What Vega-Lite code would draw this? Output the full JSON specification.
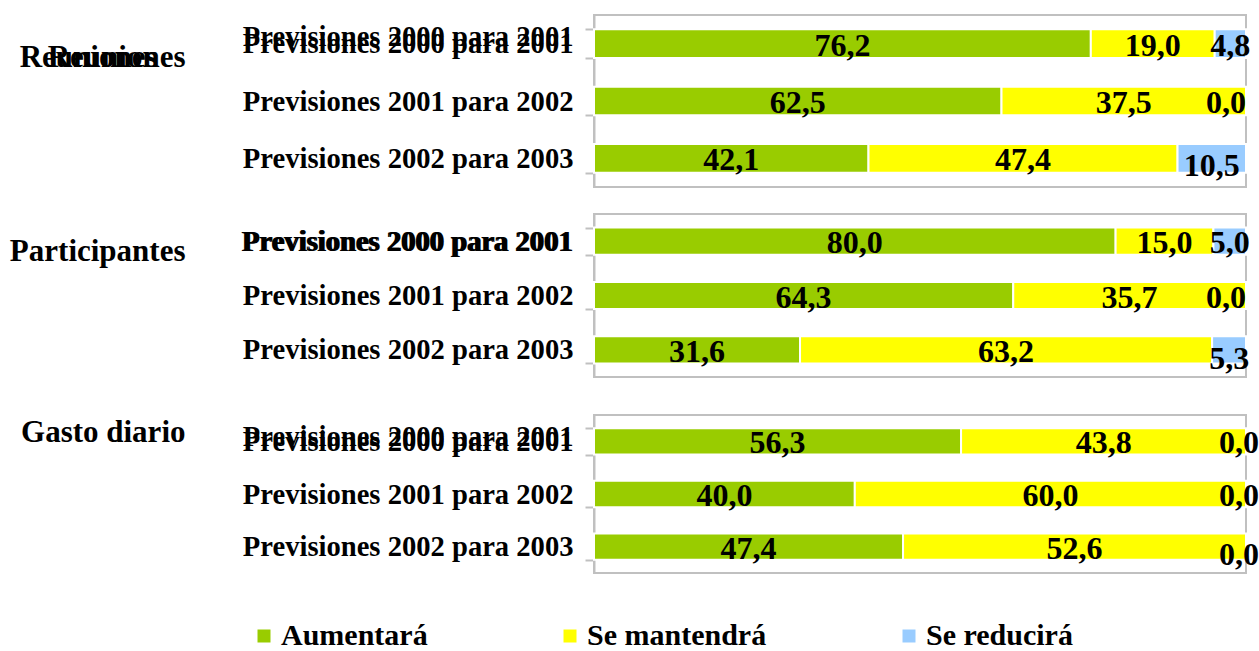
{
  "$schema": "https://vega.github.io/schema/vega-lite/v6.json",
  "padding": {"left": 8, "top": 0, "right": 5, "bottom": 0},
  "background": "white",
  "config": {
    "locale": {"number": {"decimal": ",", "thousands": ".", "grouping": [3], "currency": ["", " €"]}},
    "view": {"stroke": "#C0C0C0", "strokeWidth": 2},
    "font": "Liberation Serif",
    "axisX": {
      "grid": true,
      "gridColor": "#C0C0C0",
      "gridWidth": 2,
      "domainColor": "#C0C0C0",
      "domainWidth": 2,
      "tickColor": "#C0C0C0",
      "tickWidth": 2,
      "tickSize": 10
    },
    "axisY": {
      "labelFont": "Liberation Serif",
      "labelFontSize": 28.6,
      "labelFontWeight": "bold",
      "labelColor": "black",
      "labelPadding": 12,
      "labelLimit": 500,
      "domainColor": "#C0C0C0",
      "domainWidth": 2,
      "tickColor": "#C0C0C0",
      "tickWidth": 2,
      "tickSize": 9,
      "tickBand": "extent",
      "titleFont": "Liberation Serif",
      "titleFontSize": 31,
      "titleFontWeight": "bold",
      "titleColor": "black",
      "titleAngle": 0,
      "titleAlign": "right",
      "titleBaseline": "middle",
      "titleX": -409
    },
    "text": {"font": "Liberation Serif", "fontSize": 32, "fontWeight": "bold", "color": "black", "baseline": "middle"}
  },
  "data": {
    "values": [
      {"grupo": "Reuniones", "prevision": "Previsiones 2000 para 2001", "categoria": "Aumentará", "orden": 1, "valor": 76.2},
      {"grupo": "Reuniones", "prevision": "Previsiones 2000 para 2001", "categoria": "Se mantendrá", "orden": 2, "valor": 19.0},
      {"grupo": "Reuniones", "prevision": "Previsiones 2000 para 2001", "categoria": "Se reducirá", "orden": 3, "valor": 4.8},
      {"grupo": "Reuniones", "prevision": "Previsiones 2001 para 2002", "categoria": "Aumentará", "orden": 1, "valor": 62.5},
      {"grupo": "Reuniones", "prevision": "Previsiones 2001 para 2002", "categoria": "Se mantendrá", "orden": 2, "valor": 37.5},
      {"grupo": "Reuniones", "prevision": "Previsiones 2001 para 2002", "categoria": "Se reducirá", "orden": 3, "valor": 0.0},
      {"grupo": "Reuniones", "prevision": "Previsiones 2002 para 2003", "categoria": "Aumentará", "orden": 1, "valor": 42.1},
      {"grupo": "Reuniones", "prevision": "Previsiones 2002 para 2003", "categoria": "Se mantendrá", "orden": 2, "valor": 47.4},
      {"grupo": "Reuniones", "prevision": "Previsiones 2002 para 2003", "categoria": "Se reducirá", "orden": 3, "valor": 10.5},
      {"grupo": "Participantes", "prevision": "Previsiones 2000 para 2001", "categoria": "Aumentará", "orden": 1, "valor": 80.0},
      {"grupo": "Participantes", "prevision": "Previsiones 2000 para 2001", "categoria": "Se mantendrá", "orden": 2, "valor": 15.0},
      {"grupo": "Participantes", "prevision": "Previsiones 2000 para 2001", "categoria": "Se reducirá", "orden": 3, "valor": 5.0},
      {"grupo": "Participantes", "prevision": "Previsiones 2001 para 2002", "categoria": "Aumentará", "orden": 1, "valor": 64.3},
      {"grupo": "Participantes", "prevision": "Previsiones 2001 para 2002", "categoria": "Se mantendrá", "orden": 2, "valor": 35.7},
      {"grupo": "Participantes", "prevision": "Previsiones 2001 para 2002", "categoria": "Se reducirá", "orden": 3, "valor": 0.0},
      {"grupo": "Participantes", "prevision": "Previsiones 2002 para 2003", "categoria": "Aumentará", "orden": 1, "valor": 31.6},
      {"grupo": "Participantes", "prevision": "Previsiones 2002 para 2003", "categoria": "Se mantendrá", "orden": 2, "valor": 63.2},
      {"grupo": "Participantes", "prevision": "Previsiones 2002 para 2003", "categoria": "Se reducirá", "orden": 3, "valor": 5.3},
      {"grupo": "Gasto diario", "prevision": "Previsiones 2000 para 2001", "categoria": "Aumentará", "orden": 1, "valor": 56.3},
      {"grupo": "Gasto diario", "prevision": "Previsiones 2000 para 2001", "categoria": "Se mantendrá", "orden": 2, "valor": 43.8},
      {"grupo": "Gasto diario", "prevision": "Previsiones 2000 para 2001", "categoria": "Se reducirá", "orden": 3, "valor": 0.0},
      {"grupo": "Gasto diario", "prevision": "Previsiones 2001 para 2002", "categoria": "Aumentará", "orden": 1, "valor": 40.0},
      {"grupo": "Gasto diario", "prevision": "Previsiones 2001 para 2002", "categoria": "Se mantendrá", "orden": 2, "valor": 60.0},
      {"grupo": "Gasto diario", "prevision": "Previsiones 2001 para 2002", "categoria": "Se reducirá", "orden": 3, "valor": 0.0},
      {"grupo": "Gasto diario", "prevision": "Previsiones 2002 para 2003", "categoria": "Aumentará", "orden": 1, "valor": 47.4},
      {"grupo": "Gasto diario", "prevision": "Previsiones 2002 para 2003", "categoria": "Se mantendrá", "orden": 2, "valor": 52.6},
      {"grupo": "Gasto diario", "prevision": "Previsiones 2002 para 2003", "categoria": "Se reducirá", "orden": 3, "valor": 0.0}
    ]
  },
  "spacing": 22,
  "vconcat": [
    {
      "spacing": 11,
      "vconcat": [
        {
          "width": 652,
          "height": 172,
          "transform": [{"filter": "datum.grupo === 'Reuniones'"}],
          "resolve": {"axis": {"y": "independent"}},
          "layer": [
            {
              "encoding": {
                "y": {"field": "prevision", "type": "nominal", "sort": ["Previsiones 2000 para 2001", "Previsiones 2001 para 2002", "Previsiones 2002 para 2003"], "scale": {"paddingInner": 0.5, "paddingOuter": 0.25}, "axis": {"orient": "left", "title": "Reuniones", "titleY": 42}}
              },
              "layer": [
                {
                  "mark": {"type": "bar", "stroke": "white", "strokeWidth": 2},
                  "encoding": {
                    "x": {"field": "valor", "type": "quantitative", "stack": "zero", "scale": {"domain": [0, 100], "clamp": true}, "axis": {"values": [0, 20, 40, 60, 80, 100], "labels": false, "title": null}},
                    "color": {"field": "categoria", "type": "nominal", "scale": {"domain": ["Aumentará", "Se mantendrá", "Se reducirá"], "range": ["#99CC00", "#FFFF00", "#99CCFF"]},
                      "legend": {"orient": "none", "legendX": -345, "legendY": 606, "direction": "horizontal", "columns": 3, "title": null, "symbolType": "square", "symbolSize": 169, "symbolStrokeWidth": 0, "labelFont": "Liberation Serif", "labelFontSize": 30, "labelFontWeight": "bold", "labelColor": "black", "columnPadding": 127, "labelOffset": 2, "labelLimit": 400}},
                    "order": {"field": "orden", "type": "ordinal"}
                  }
                },
                {
                  "transform": [{"filter": "datum.valor > 0 && !(datum.prevision === 'Previsiones 2002 para 2003' && datum.categoria === 'Se reducirá')"}],
                  "mark": {"type": "text", "dy": 2},
                  "encoding": {
                    "x": {"field": "valor", "type": "quantitative", "stack": "zero", "bandPosition": 0.5, "axis": null},
                    "detail": {"field": "categoria", "type": "nominal"},
                    "order": {"field": "orden", "type": "ordinal"},
                    "text": {"field": "valor", "type": "quantitative", "format": ".1f"}
                  }
                },
                {
                  "transform": [{"filter": "datum.prevision === 'Previsiones 2002 para 2003'"}],
                  "mark": {"type": "text", "dy": 8},
                  "encoding": {
                    "x": {"field": "valor", "type": "quantitative", "stack": "zero", "bandPosition": 0.5, "axis": null},
                    "detail": {"field": "categoria", "type": "nominal"},
                    "order": {"field": "orden", "type": "ordinal"},
                    "text": {"condition": {"test": "datum.categoria !== 'Se reducirá' || datum.valor === 0", "value": ""}, "field": "valor", "type": "quantitative", "format": ".1f"}
                  }
                },
                {
                  "transform": [{"filter": "datum.valor === 0"}],
                  "mark": {"type": "text", "align": "right", "dy": 2},
                  "encoding": {
                    "x": {"datum": 100, "type": "quantitative", "axis": null},
                    "text": {"field": "valor", "type": "quantitative", "format": ".1f"}
                  }
                }
              ]
            },
            {
              "mark": {"type": "text"},
              "encoding": {
                "y": {"field": "prevision", "type": "nominal", "sort": ["Previsiones 2000 para 2001", "Previsiones 2001 para 2002", "Previsiones 2002 para 2003"], "scale": {"paddingInner": 0.5, "paddingOuter": 0.25}, "axis": {"orient": "left", "values": ["Previsiones 2000 para 2001"], "labelOffset": -7, "domain": false, "tickColor": "transparent", "title": "Reuniones", "titleX": -437, "titleY": 42}},
                "text": {"value": ""}
              }
            }
          ]
        },
        {
          "width": 652,
          "height": 163,
          "transform": [{"filter": "datum.grupo === 'Participantes'"}],
          "resolve": {"axis": {"y": "independent"}},
          "layer": [
            {
              "encoding": {
                "y": {"field": "prevision", "type": "nominal", "sort": ["Previsiones 2000 para 2001", "Previsiones 2001 para 2002", "Previsiones 2002 para 2003"], "scale": {"paddingInner": 0.5, "paddingOuter": 0.25}, "axis": {"orient": "left", "title": "Participantes", "titleY": 37}}
              },
              "layer": [
                {
                  "mark": {"type": "bar", "stroke": "white", "strokeWidth": 2},
                  "encoding": {
                    "x": {"field": "valor", "type": "quantitative", "stack": "zero", "scale": {"domain": [0, 100], "clamp": true}, "axis": {"values": [0, 20, 40, 60, 80, 100], "labels": false, "title": null}},
                    "color": {"field": "categoria", "type": "nominal"},
                    "order": {"field": "orden", "type": "ordinal"}
                  }
                },
                {
                  "transform": [{"filter": "datum.valor > 0 && !(datum.prevision === 'Previsiones 2002 para 2003' && datum.categoria === 'Se reducirá')"}],
                  "mark": {"type": "text", "dy": 2},
                  "encoding": {
                    "x": {"field": "valor", "type": "quantitative", "stack": "zero", "bandPosition": 0.5, "axis": null},
                    "detail": {"field": "categoria", "type": "nominal"},
                    "order": {"field": "orden", "type": "ordinal"},
                    "text": {"field": "valor", "type": "quantitative", "format": ".1f"}
                  }
                },
                {
                  "transform": [{"filter": "datum.prevision === 'Previsiones 2002 para 2003'"}],
                  "mark": {"type": "text", "dy": 9},
                  "encoding": {
                    "x": {"field": "valor", "type": "quantitative", "stack": "zero", "bandPosition": 0.5, "axis": null},
                    "detail": {"field": "categoria", "type": "nominal"},
                    "order": {"field": "orden", "type": "ordinal"},
                    "text": {"condition": {"test": "datum.categoria !== 'Se reducirá' || datum.valor === 0", "value": ""}, "field": "valor", "type": "quantitative", "format": ".1f"}
                  }
                },
                {
                  "transform": [{"filter": "datum.valor === 0"}],
                  "mark": {"type": "text", "align": "right", "dy": 2},
                  "encoding": {
                    "x": {"datum": 100, "type": "quantitative", "axis": null},
                    "text": {"field": "valor", "type": "quantitative", "format": ".1f"}
                  }
                }
              ]
            },
            {
              "mark": {"type": "text"},
              "encoding": {
                "y": {"field": "prevision", "type": "nominal", "sort": ["Previsiones 2000 para 2001", "Previsiones 2001 para 2002", "Previsiones 2002 para 2003"], "scale": {"paddingInner": 0.5, "paddingOuter": 0.25}, "axis": {"orient": "left", "values": ["Previsiones 2000 para 2001"], "labelPadding": 13.5, "domain": false, "tickColor": "transparent", "title": null}},
                "text": {"value": ""}
              }
            }
          ]
        }
      ]
    },
    {
      "width": 652,
      "height": 158,
      "transform": [{"filter": "datum.grupo === 'Gasto diario'"}],
      "resolve": {"axis": {"y": "independent"}},
      "layer": [
        {
          "encoding": {
            "y": {"field": "prevision", "type": "nominal", "sort": ["Previsiones 2000 para 2001", "Previsiones 2001 para 2002", "Previsiones 2002 para 2003"], "scale": {"paddingInner": 0.5, "paddingOuter": 0.25}, "axis": {"orient": "left", "title": "Gasto diario", "titleY": 17}}
          },
          "layer": [
            {
              "mark": {"type": "bar", "stroke": "white", "strokeWidth": 2},
              "encoding": {
                "x": {"field": "valor", "type": "quantitative", "stack": "zero", "scale": {"domain": [0, 100], "clamp": true}, "axis": {"values": [0, 20, 40, 60, 80, 100], "labels": false, "title": null}},
                "color": {"field": "categoria", "type": "nominal"},
                "order": {"field": "orden", "type": "ordinal"}
              }
            },
            {
              "transform": [{"filter": "datum.valor > 0"}],
              "mark": {"type": "text", "dy": 2},
              "encoding": {
                "x": {"field": "valor", "type": "quantitative", "stack": "zero", "bandPosition": 0.5, "axis": null},
                "detail": {"field": "categoria", "type": "nominal"},
                "order": {"field": "orden", "type": "ordinal"},
                "text": {"field": "valor", "type": "quantitative", "format": ".1f"}
              }
            },
            {
              "transform": [{"filter": "datum.valor === 0 && datum.prevision !== 'Previsiones 2002 para 2003'"}],
              "mark": {"type": "text", "align": "right", "dx": 13, "dy": 2},
              "encoding": {
                "x": {"datum": 100, "type": "quantitative", "axis": null},
                "text": {"field": "valor", "type": "quantitative", "format": ".1f"}
              }
            },
            {
              "transform": [{"filter": "datum.valor === 0 && datum.prevision === 'Previsiones 2002 para 2003'"}],
              "mark": {"type": "text", "align": "right", "dx": 13, "dy": 8},
              "encoding": {
                "x": {"datum": 100, "type": "quantitative", "axis": null},
                "text": {"field": "valor", "type": "quantitative", "format": ".1f"}
              }
            }
          ]
        },
        {
          "mark": {"type": "text"},
          "encoding": {
            "y": {"field": "prevision", "type": "nominal", "sort": ["Previsiones 2000 para 2001", "Previsiones 2001 para 2002", "Previsiones 2002 para 2003"], "scale": {"paddingInner": 0.5, "paddingOuter": 0.25}, "axis": {"orient": "left", "values": ["Previsiones 2000 para 2001"], "labelOffset": -5, "domain": false, "tickColor": "transparent", "title": null}},
            "text": {"value": ""}
          }
        }
      ]
    }
  ]
}
